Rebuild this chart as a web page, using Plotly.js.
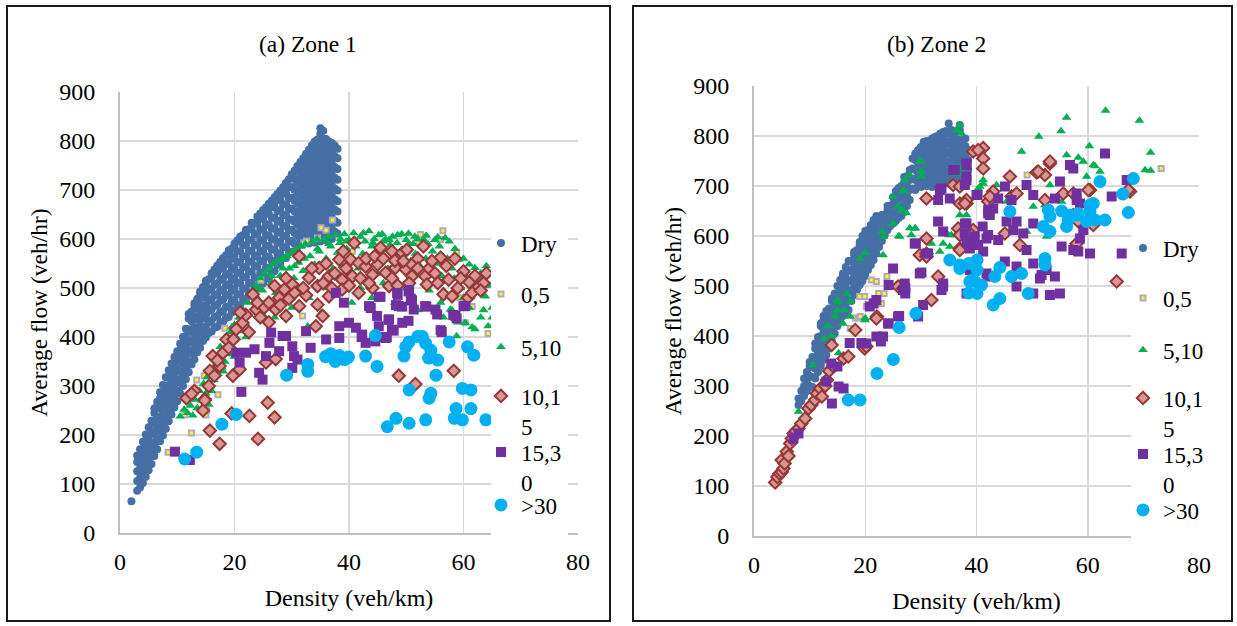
<!DOCTYPE html>
<html><head><meta charset="utf-8">
<script src="https://cdn.plot.ly/plotly-3.0.1.min.js"></script>
<style>
html,body{margin:0;padding:0;background:#fff}
#chart{width:1237px;height:626px}
</style>
</head><body><div id="chart"></div>
<script>
const FONT = 'Liberation Serif, Times New Roman, serif';
const seriesNames = ['Dry', '0,5', '5,10', '10,1<br>5', '15,3<br>0', '&gt;30'];
const panelTitles = ['(a) Zone 1', '(b) Zone 2'];
const xTitle = 'Density (veh/km)';
const yTitle = 'Average flow (veh/hr)';
const xTickVals = [0, 20, 40, 60, 80];
const yTickVals = [0, 100, 200, 300, 400, 500, 600, 700, 800, 900];

// ---------- Zone 1 ----------
// rows: [density, flow, flow, ...]
const z1Dry = [
[2.0,65],
[3.0,86,106,126,145,158],[3.5,93,113,132,153,171],[4.0,102,123,145,165,186],[4.5,115,136,158,179,201],
[5.0,128,150,171,194,216],[5.5,141,164,185,207,229],[6.0,157,179,202,223,245,254],[6.5,171,193,216,237,259,268],
[7.0,187,209,231,254,275,287],[7.5,199,222,243,265,287,302],[8.0,213,235,258,279,301,318],[8.5,228,250,273,294,317,332],
[9.0,242,264,287,308,330,346],[9.5,256,278,301,322,344,359],[10.0,269,291,314,335,357,371],[10.5,285,307,330,351,373,386],
[11.0,300,322,345,366,388,400],[11.5,314,336,359,380,402,417],[12.0,328,350,373,394,416,438,447],[12.5,344,366,389,410,432,452],
[13.0,354,376,399,420,442,464,469],[13.5,369,391,414,435,457,478],[14.0,378,400,423,444,466,488,493],[14.5,392,414,437,458,480,502],
[15.0,399,421,444,465,487,509,515],[15.5,408,430,453,474,496,518],[16.0,411,433,456,477,499,521,530],[16.5,419,441,464,485,507,529,538],
[17.0,421,443,466,487,509,531,546],[17.5,429,451,474,495,517,539,553],[18.0,431,453,476,497,519,541,561],[18.5,439,461,484,505,527,549,567],
[19.0,441,463,486,507,529,551,573,577],[19.5,450,472,495,516,538,560,580],[20.0,454,476,499,520,542,564,586,591],[20.5,465,487,510,531,553,575,597],
[21.0,465,487,510,531,553,575,597,605],[21.5,477,499,522,543,565,587,608],[22.0,477,499,522,543,565,587,609,619],[22.5,488,510,533,554,576,598,620],
[23.0,488,510,533,554,576,598,620,633],[23.5,500,522,545,566,588,610,632],[24.0,499,521,544,565,587,609,631,646],[24.5,510,532,555,576,598,620,642,652],
[25.0,509,531,554,575,597,619,641,659],[25.5,520,542,565,586,608,630,652,665],[26.0,519,541,564,585,607,629,651,672],[26.5,533,555,578,599,621,643,665,678],
[27.0,534,556,579,600,622,644,666,685],[27.5,547,569,592,613,635,657,679,692],[28.0,549,571,594,615,637,659,681,699],[28.5,561,583,606,627,649,671,693,706],
[29.0,561,583,606,627,649,671,693,715],[29.5,573,595,618,639,661,683,705,722],[30.0,574,596,619,640,662,684,706,728,732],[30.5,590,612,635,656,678,700,722,740],
[31.0,584,606,629,650,672,694,716,738,749],[31.5,598,620,643,664,686,708,730,752,757],[32.0,589,611,634,655,677,699,721,743,765],[32.5,601,623,646,667,689,711,733,755,774],
[33.0,591,613,636,657,679,701,723,745,767,782],[33.5,603,625,648,669,691,713,735,757,779,791],[34.0,593,615,638,659,681,703,725,747,769,791,799],
[34.5,605,627,650,671,693,715,737,759,781,803],[35.0,595,617,640,661,683,705,727,749,771,793,815,826],[35.5,607,629,652,673,695,717,739,761,783,805,821],
[36.0,597,619,642,663,685,707,729,751,773,795,804],[36.5,609,631,654,675,697,719,741,763,785,799],[37.0,600,622,645,666,688,710,732,754,776,796],
[37.5,615,637,660,681,703,725,747,769,791],[38.0,611,633,656,677,699,721,743,765,784]
];
const z1S05 = [[8.4,165],[11.3,241],[12.5,204],[13.4,312],[14.7,321],[15.0,241],[15.1,250],[17.1,282],[18.3,418],[24.6,516],
[31.9,443],[32.1,592],[32.6,596],[34.5,602],[35.1,623],[36.0,618],[37.1,639],[36.2,551],[40.6,575],[52.2,592],[52.5,609],
[56.0,599],[56.4,617],[58.8,573],[59.4,480],[60.3,429],[61.5,462],[64.3,407]];
const z1S510 = [[10.5,238],[11.2,252],[11.8,245],[12.3,260],[12.7,240],[13.1,272],[13.5,255],[13.9,290],[14.3,270],[14.6,305],
[15.0,285],[15.2,318],[15.5,262],[15.8,300],[16.1,330],[16.4,312],[16.8,345],[17.1,325],[17.4,360],[17.8,338],[18.1,375],
[18.3,350],[18.6,392],[19.0,365],[19.3,410],[19.7,380],[20.0,425],[20.4,398],[20.8,440],[21.2,412],[21.5,455],[21.9,428],
[22.3,470],[22.6,445],[23.0,490],[23.4,460],[23.8,505],[24.1,478],[24.5,520],[24.9,495],[25.3,530],[25.7,470],[26.0,540],
[26.4,510],[26.8,548],[27.2,490],[27.6,555],[28.0,525],[28.4,560],[28.8,505],[29.2,565],[29.6,540],[30.0,572],[30.4,520],
[30.8,578],[31.2,552],[31.6,585],[32.0,535],[32.4,590],[32.8,422],[33.2,565],[33.6,595],[34.0,548],[34.4,600],[34.8,575],
[35.2,450],[35.6,598],[36.0,560],[36.4,605],[36.8,585],[37.2,540],[37.6,608],[38.0,572],[38.4,592],[38.8,545],[39.2,610],
[39.6,580],[40.0,598],[40.4,560],[40.8,612],[41.2,585],[41.6,540],[42.0,605],[42.4,570],[42.8,595],[43.2,548],[43.5,616],
[44.0,585],[44.4,600],[44.8,560],[45.2,608],[45.6,578],[46.0,595],[46.4,599],[46.8,540],[47.2,588],[47.6,605],[48.0,565],
[48.4,592],[48.8,548],[49.2,610],[49.6,575],[50.0,598],[50.4,611],[50.8,555],[51.2,590],[51.6,570],[52.0,600],[52.4,545],
[52.8,585],[53.0,599],[53.4,560],[53.8,590],[54.2,530],[54.6,575],[55.0,598],[55.4,550],[55.8,585],[56.2,525],[56.8,602],
[57.2,560],[57.7,456],[58.0,540],[58.4,520],[58.8,402],[59.1,558],[59.5,500],[60.0,480],[60.3,429],[60.7,520],[61.0,460],
[61.4,505],[62.0,541],[62.0,416],[62.5,490],[63.0,440],[63.4,520],[63.8,483],[64.3,422],[64.6,505],[65.0,460],[65.5,430],
[66.0,500],[40.5,470],[42.0,500],[44.0,480],[46.0,510],[48.0,470],[50.0,500],[52.0,455],[54.0,495],[56.0,470],[58.0,455],
[45.0,530],[39.0,520],[36.0,500],[33.0,480],[30.0,460],[27.0,440],[25.0,445],[22.0,400],[20.0,360],[18.0,330],[16.0,290],
[38.5,600],[39.5,595],[41.0,597],[42.5,612],[44.2,592],[45.8,610],[47.0,598],[48.5,608],[50.5,590],[51.5,605],[53.5,607],
[55.5,604],[57.5,595],[58.5,580],[60.0,560],[61.0,548],[63.0,530],[64.0,545],[30.5,545],[32.2,560],[34.5,580],[36.5,590],
[28.5,540],[26.5,525],[24.0,500],[21.0,440],[19.5,420],[17.5,380],[56.5,440],[59.0,430],[61.5,420],[63.5,455],[65.0,440]];
const z1S1015 = [[40.9,592],[31.3,565],[38.3,558],[40.3,558],[41.7,551],[45.5,582],[47.5,575],[49.3,572],[50.1,578],[56.0,562],
[60.0,534],[62.6,502],[34.8,541],[36.5,524],[38.8,517],[40.6,524],[42.9,544],[44.1,527],[46.4,531],[48.1,541],[49.9,538],
[51.0,524],[53.3,524],[53.6,507],[57.4,517],[56.5,487],[58.0,483],[47.0,504],[44.1,500],[41.7,490],[38.8,497],[36.5,483],
[34.5,504],[33.0,521],[30.1,507],[28.7,497],[27.0,504],[27.8,480],[23.2,487],[23.8,456],[25.2,460],[27.2,456],[29.0,443],
[31.3,463],[34.5,466],[35.4,443],[34.2,422],[21.4,429],[20.3,416],[18.6,395],[18.0,368],[16.2,361],[15.7,331],[17.4,341],
[16.5,321],[19.7,321],[20.9,334],[25.5,348],[27.2,355],[14.8,273],[14.5,250],[48.7,321],[51.6,304],[58.3,331],[25.8,266],
[22.6,239],[27.0,236],[24.1,192],[17.4,182],[15.7,209],[11.6,275],[14.8,271],[19.5,244],[43.0,560],[45.0,548],[48.0,556],
[51.0,548],[54.0,540],[52.0,560],[55.0,530],[59.0,500],[61.0,512],[39.5,540],[37.0,500],[32.5,485],[29.5,478],[26.0,470],
[22.0,445],[19.0,378],[17.0,352],[15.5,300],[13.0,290],[12.5,284],[60.8,480],[63.5,510],
[29.0,520],[30.5,490],[32.0,500],[33.5,540],[35.5,510],[36.0,550],[37.5,530],[39.0,575],[40.0,505],[42.0,520],[43.5,510],
[44.5,565],[46.0,560],[47.5,520],[48.5,505],[49.5,555],[50.5,510],[52.0,540],[53.0,585],[54.5,555],[55.5,510],[57.0,545],
[58.5,560],[59.5,520],[61.5,490],[62.0,525],[63.0,495],[64.0,530],[24.5,440],[26.0,430],[28.0,465],[22.5,410],[19.8,395],
[24.0,470],[21.0,450]];
const z1S1530 = [[37.7,490],[39.1,470],[45.2,482],[43.5,463],[44.9,443],[45.2,422],[47.0,436],[47.5,415],[48.4,490],[48.7,463],
[50.4,493],[51.0,475],[51.3,456],[49.3,429],[50.4,433],[53.3,463],[55.1,456],[55.4,446],[58.6,443],[60.0,463],[56.0,414],
[38.3,422],[40.0,429],[41.2,419],[42.3,405],[42.9,388],[44.6,391],[46.4,398],[38.3,398],[36.0,395],[32.5,412],[33.3,378],
[29.0,402],[30.1,381],[30.4,361],[31.0,354],[30.1,337],[26.4,409],[28.4,402],[26.1,388],[27.8,371],[25.5,361],[23.5,375],
[22.0,368],[20.3,368],[20.9,348],[24.3,327],[24.9,313],[21.2,288],[9.6,166],[12.2,149],[50.5,496],[50.8,478],[48.5,486],
[48.2,465],[49.3,462],[45.5,482],[43.8,459],[46.9,435],[47.8,413],[44.9,400],[46.6,400],[42.2,400],[53.5,462],[58.2,445],
[58.8,438],[56.2,410],[60.3,463]];
const z1S30 = [[11.3,151],[13.4,165],[17.8,222],[20.3,242],[29.1,322],[32.8,344],[32.8,330],[35.9,360],[36.8,366],[37.6,350],
[38.3,362],[39.2,354],[39.9,359],[42.9,361],[44.6,403],[44.9,340],[49.9,380],[50.5,390],[52.0,401],[52.8,401],[53.4,387],
[54.3,373],[55.5,353],[53.9,357],[57.5,390],[60.7,380],[61.8,363],[49.6,361],[55.2,322],[50.5,292],[54.3,285],[54.0,275],
[59.8,295],[61.3,292],[58.7,254],[61.3,254],[46.7,217],[48.2,234],[50.5,224],[53.4,231],[58.4,234],[59.8,231],[63.9,231]];

// ---------- Zone 2 ----------
const z2Dry = [
[8.0,262,275],[8.5,270,290],[9.0,280,300,315],[9.5,290,310,328],[10.0,300,320,340,348],[10.5,298,318,338,358],
[11.0,315,335,355,375,385],[11.5,328,348,368,388,398],[12.0,340,360,380,400,420,425],[12.5,352,372,392,412,432,440],
[13.0,362,382,402,422,442,450],[13.5,375,395,415,435,455],[14.0,390,410,430,450,470,475],[14.5,405,425,445,465,485],
[15.0,420,440,460,480,500],[15.5,432,452,472,492,512],[16.0,440,460,480,500,520,525],[16.5,445,465,485,505,525,538],
[17.0,452,472,492,512,532,550],[17.5,470,490,510,530,550],[18.0,482,502,522,542,562,568],[18.5,492,512,532,552,572],
[19.0,502,522,542,562,582,588],[19.5,510,530,550,570,590,600],[20.0,520,540,560,580,600,610],[20.5,532,552,572,592,612],
[21.0,542,562,582,602,622],[21.5,552,572,592,612,632],[22.0,565,585,605,625,640],[22.5,578,598,618,638],
[23.0,590,610,630,642],[23.5,602,622,642],[24.0,612,632,652,660],[24.5,620,640,660],[25.0,625,645,665,678],
[25.5,630,650,670,690],[26.0,636,656,676,696],[26.5,640,660,680,700],[27.0,648,668,688,708,718],[27.5,660,680,700,720],
[28.0,672,692,712,732],[28.5,695,715,735,755],[29.0,692,712,732,752,765],[29.5,705,725,745,765,772],[30.0,698,718,738,758,778],
[30.5,708,728,748,768,788],[31.0,700,720,740,760,780,790],[31.5,710,730,750,770,790],[32.0,698,718,738,758,778,795],
[32.5,710,730,750,770,790,798],[33.0,702,722,742,762,782,800],[33.5,710,730,750,770,790,805],[34.0,702,722,742,762,782,802,808],
[34.5,710,730,750,770,790,810],[35.0,705,725,745,765,785,805,825],[35.5,712,732,752,772,792,812],[36.0,705,725,745,765,785,805,810],
[36.5,720,740,760,780,792],[37.0,712,732,752,772,792,812,822],[37.5,725,745,765,785],[38.0,720,740,760,780,795],[38.5,732,752,772]
];
const z2S05 = [[22.0,509],[23.9,519],[23.4,485],[22.4,485],[18.2,436],[18.8,436],[20.2,459],[21.4,469],[19.9,479],[19.1,439],
[17.3,415],[21.1,512],[22.9,465],[19.0,479],[49.1,722],[73.2,735]];
const z2S510 = [[8.0,249],[10.5,342],[14.0,400],[15.2,366],[14.9,472],[16.0,425],[20.0,432],[15.2,469],[16.7,485],[17.3,469],
[15.0,452],[16.2,452],[17.3,439],[20.0,436],[20.0,567],[19.1,555],[23.2,562],[23.0,609],[23.3,599],[25.0,625],[26.0,600],
[28.0,616],[29.0,616],[25.0,679],[26.8,692],[27.1,712],[28.0,722],[30.1,749],[30.1,729],[30.1,719],[25.9,659],[26.6,652],
[27.4,646],[31.9,585],[34.0,585],[35.0,602],[37.0,642],[36.5,725],[37.0,735],[41.2,712],[40.6,699],[43.6,702],[37.0,822],
[37.3,805],[36.5,812],[48.1,769],[56.2,762],[58.3,757],[61.0,742],[62.2,729],[59.8,719],[53.2,702],[50.2,659],[52.3,662],
[55.3,669],[41.2,705],[40.3,695],[38.2,642],[45.4,669],[49.0,609],[52.6,599],[35.2,579],[35.5,602],[33.4,569],[26.2,599],
[28.3,602],[28.9,615],[27.1,689],[29.8,749],[63.2,851],[69.3,831],[56.2,837],[55.2,810],[51.2,799],[60.3,780],[59.2,749],
[61.3,740],[70.3,732],[71.3,731],[71.3,767],[12.6,395],[13.2,420],[14.6,440]];
const z2S1015 = [[3.8,107],[4.2,118],[4.6,125],[5.0,128],[5.3,135],[4.97,152],[5.5,145],[5.9,169],[6.2,160],[6.5,185],
[6.8,195],[7.1,205],[7.5,210],[8.0,215],[8.5,225],[9.2,235],[9.8,255],[10.3,262],[10.97,272],[11.3,285],[11.9,295],[12.2,279],
[12.8,300],[13.1,312],[13.5,330],[14.3,339],[13.96,382],[16.1,355],[16.96,359],[18.2,412],[19.9,375],[20.2,379],[22.1,439],
[31.9,472],[41.2,776],[41.2,755],[41.2,735],[39.4,769],[40.3,772],[35.8,702],[37.0,699],[38.2,665],[37.0,665],[31.0,675],
[43.0,689],[42.1,669],[37.3,605],[31.0,595],[29.8,562],[31.0,565],[37.0,575],[33.1,519],[26.3,499],[53.2,745],[50.8,727],
[52.3,722],[46.0,719],[42.4,679],[38.2,672],[46.3,679],[47.2,685],[52.3,672],[55.6,685],[57.4,685],[60.4,692],[67.6,689],
[57.4,642],[58.3,629],[60.4,632],[61.0,622],[58.0,585],[47.8,582],[45.1,605],[39.4,612],[39.1,602],[36.7,615],[37.0,602],
[37.0,572],[31.0,559],[65.2,509],[25.9,499],[26.8,495],[22.0,435],[51.1,729],[53.2,749],[60.1,692],[67.3,692],[37.9,665]];
const z2S1530 = [[63.1,765],[56.8,742],[57.4,735],[67.0,712],[64.3,679],[58.0,685],[58.0,672],[58.6,665],[55.0,709],[49.0,702],
[45.1,699],[50.2,682],[54.1,675],[46.3,672],[43.9,675],[43.0,655],[42.4,642],[40.0,682],[38.2,742],[38.2,719],[37.9,702],
[37.9,625],[37.9,605],[38.2,589],[36.1,732],[33.7,695],[33.1,672],[35.2,675],[39.7,599],[41.2,569],[38.8,575],[33.1,629],
[34.0,609],[28.9,585],[31.0,565],[29.8,525],[34.0,505],[33.7,492],[26.8,492],[27.1,505],[25.0,535],[24.2,502],[25.9,439],
[30.4,462],[29.5,439],[24.2,425],[22.0,399],[22.8,389],[20.2,385],[45.1,549],[47.2,539],[50.2,545],[51.4,515],[52.6,532],
[54.1,519],[55.3,579],[57.4,572],[58.3,569],[60.4,565],[66.1,565],[55.0,485],[53.2,482],[50.2,485],[47.2,499],[43.9,592],
[45.4,629],[47.2,629],[50.2,625],[41.8,595],[42.1,645],[46.6,612],[48.4,605],[49.0,572],[38.8,532],[42.1,519],[38.2,485],
[58.6,595],[59.2,612],[51.7,522],[35.8,732],[38.2,745],[38.2,712],[33.4,692],[40.2,682],[42.1,652],[38.2,625],[38.8,585],
[40.3,582],[41.1,619],[42.1,602],[29.1,585],[31.3,565],[30.1,527],[34.0,499],[27.2,495],[27.2,485],[22.0,472],[20.8,459],
[41.8,525],[21.5,465],[26.1,440],[24.1,425],[23.2,399],[17.2,386],[19.3,386],[15.0,339],[13.9,345],[13.0,309],[15.2,299],
[16.1,295],[14.0,265],[7.1,195],[8.0,205]];
const z2S30 = [[68.2,715],[66.3,684],[67.3,647],[62.2,709],[61.0,665],[60.4,649],[61.3,632],[56.8,642],[58.3,645],[56.2,619],
[52.9,652],[53.2,639],[52.0,619],[53.2,609],[46.0,649],[63.1,632],[59.8,629],[56.5,632],[52.3,555],[52.3,542],[48.1,525],
[46.3,519],[43.3,519],[44.2,537],[49.3,485],[43.0,462],[44.2,475],[40.1,552],[40.1,532],[39.7,509],[40.9,502],[38.8,509],
[40.1,485],[37.0,542],[35.2,552],[37.0,535],[38.6,545],[39.2,512],[38.6,486],[29.1,445],[26.1,417],[25.05,353],[22.1,325],
[16.96,272],[19.06,272],[60.4,662],[58.0,642],[55.3,650]];

// ---------- build ----------
function fromRows(rows){const x=[],y=[];rows.forEach(r=>{for(let i=1;i<r.length;i++){x.push(r[0]);y.push(r[i]);}});return {x,y};}
function fromPairs(p){return {x:p.map(a=>a[0]),y:p.map(a=>a[1])};}

const zones = [
  [fromRows(z1Dry), fromPairs(z1S05), fromPairs(z1S510), fromPairs(z1S1015), fromPairs(z1S1530), fromPairs(z1S30)],
  [fromRows(z2Dry), fromPairs(z2S05), fromPairs(z2S510), fromPairs(z2S1015), fromPairs(z2S1530), fromPairs(z2S30)]
];

const markerStyles = [
  {symbol:'circle', size:8, color:'#456fa5'},
  {symbol:'square', size:5, color:'#ffff00', line:{color:'#b3a6cc', width:2}},
  {symbol:'triangle-up', size:8.5, color:'#00b050'},
  {symbol:'diamond', size:9.5, color:'#d99694', line:{color:'#953735', width:2}},
  {symbol:'square', size:10, color:'#7030a0'},
  {symbol:'circle', size:13, color:'#00b0f0'}
];

const W = 1237, H = 626;
const px = v => v / W, py = v => 1 - v / H;

const traces = [];
zones.forEach((series, z) => {
  series.forEach((d, s) => {
    const li = z * 6 + s + 1;
    traces.push({
      type:'scatter', mode:'markers', x:d.x, y:d.y, name:seriesNames[s],
      xaxis: z === 0 ? 'x' : 'x2', yaxis: z === 0 ? 'y' : 'y2',
      legend: li === 1 ? 'legend' : 'legend' + li,
      marker: markerStyles[s], hoverinfo:'x+y'
    });
  });
});

const legendCenters = [[243,294,347,411,467,505],[248,298,350,413,469,510]];
const legendLeft = [481, 1123];

const axisCommon = {
  showgrid:true, gridcolor:'#d9d9d9', gridwidth:1.5, showline:true, linecolor:'#bfbfbf', linewidth:2,
  zeroline:false, ticks:'', tickfont:{family:FONT, size:24, color:'#000'}, automargin:false, fixedrange:true
};
function xa(domain){return Object.assign({}, axisCommon, {domain, range:[0,80], tickvals:xTickVals, ticklabelstandoff:6,
  title:{text:xTitle, font:{family:FONT, size:24, color:'#000'}, standoff:15}});}
function ya(domain, anchor){return Object.assign({}, axisCommon, {domain, range:[0,900], tickvals:yTickVals, ticklabelstandoff:18, anchor,
  title:{text:yTitle, font:{family:FONT, size:23.5, color:'#000'}, standoff:5}});}

const layout = {
  width:W, height:H, margin:{l:0,r:0,t:0,b:0}, paper_bgcolor:'#fff', plot_bgcolor:'#fff', showlegend:true,
  font:{family:FONT, color:'#000'},
  xaxis: Object.assign(xa([px(120), px(578)]), {anchor:'y'}),
  yaxis: ya([1-533/H, 1-92/H], 'x'),
  xaxis2: Object.assign(xa([px(754), px(1199)]), {anchor:'y2'}),
  yaxis2: ya([1-536/H, 1-86/H], 'x2'),
  annotations: [
    {text:panelTitles[0], x:px(308), y:py(44), xref:'paper', yref:'paper', showarrow:false, xanchor:'center', yanchor:'middle', font:{family:FONT, size:23.5, color:'#000'}},
    {text:panelTitles[1], x:px(936), y:py(44), xref:'paper', yref:'paper', showarrow:false, xanchor:'center', yanchor:'middle', font:{family:FONT, size:23.5, color:'#000'}}
  ],
  shapes: [
    {type:'rect', xref:'paper', yref:'paper', x0:px(491), x1:px(568), y0:py(538), y1:py(214), fillcolor:'#fff', line:{width:0}, layer:'above'},
    {type:'rect', xref:'paper', yref:'paper', x0:px(1131), x1:px(1216), y0:py(540), y1:py(233), fillcolor:'#fff', line:{width:0}, layer:'above'},
    {type:'rect', xref:'paper', yref:'paper', x0:px(7), x1:px(610), y0:py(621), y1:py(6), line:{color:'#1a1a1a', width:2}, fillcolor:'rgba(0,0,0,0)', layer:'above'},
    {type:'rect', xref:'paper', yref:'paper', x0:px(633), x1:px(1232), y0:py(621), y1:py(6), line:{color:'#1a1a1a', width:2}, fillcolor:'rgba(0,0,0,0)', layer:'above'}
  ]
};

for (let z = 0; z < 2; z++) {
  for (let s = 0; s < 6; s++) {
    const li = z * 6 + s + 1;
    const key = li === 1 ? 'legend' : 'legend' + li;
    layout[key] = {
      x: px(legendLeft[z]), y: py(legendCenters[z][s]), xanchor:'left', yanchor:'middle',
      bgcolor:'rgba(0,0,0,0)', borderwidth:0, valign:'top',
      font:{family:FONT, size:23, color:'#000'}, itemclick:false, itemdoubleclick:false
    };
  }
}

Plotly.newPlot('chart', traces, layout, {displayModeBar:false, staticPlot:true});
</script>
</body></html>
